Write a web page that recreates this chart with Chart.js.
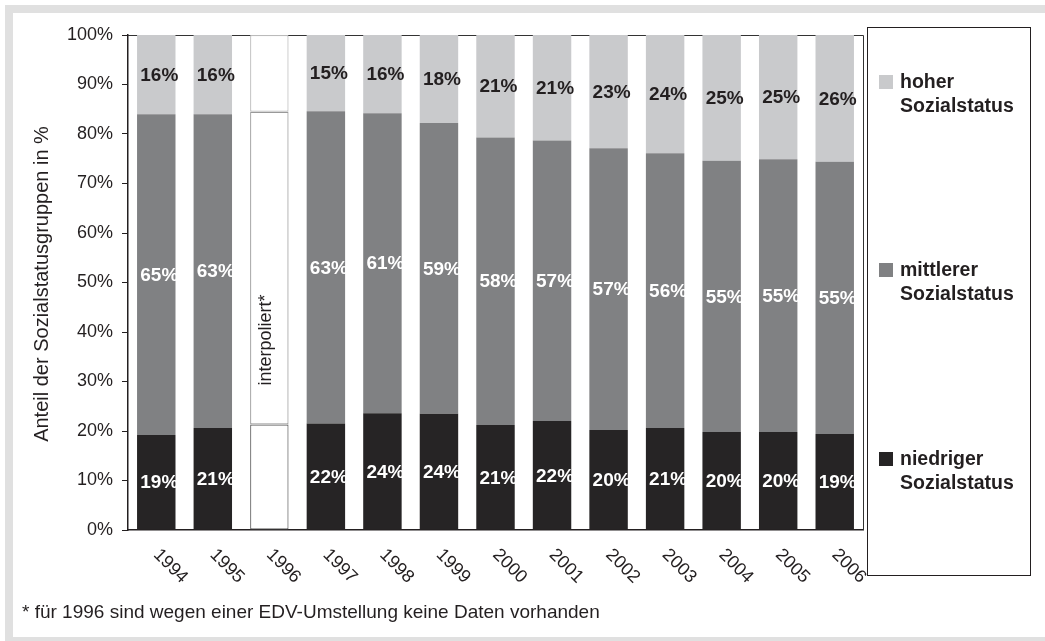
<!DOCTYPE html>
<html>
<head>
<meta charset="utf-8">
<script src="https://cdn.jsdelivr.net/npm/chart.js@4"></script>
<style>
  body { margin: 0; background: #fff; }
  #wrap { width: 1045px; height: 641px; position: relative; }
</style>
</head>
<body>
<div id="wrap"><canvas id="chart"></canvas></div>
<script>
// Jahre (1996 interpoliert)
var years = ["1994", "1995", "1996", "1997", "1998", "1999", "2000", "2001", "2002", "2003", "2004", "2005", "2006"];
var interpolatedIndex = 2;

// Anteile in %
var niedrig = [19.2, 20.6, 21.3, 21.5, 23.6, 23.5, 21.2, 22.0, 20.2, 20.6, 19.8, 19.8, 19.4];
var mittel  = [64.8, 63.4, 63.2, 63.1, 60.6, 58.7, 58.1, 56.7, 56.9, 55.5, 54.8, 55.1, 55.0];
var hoch    = [16.0, 16.0, 15.5, 15.4, 15.8, 17.8, 20.7, 21.3, 22.9, 23.9, 25.4, 25.1, 25.6];

var yTicks = [0, 10, 20, 30, 40, 50, 60, 70, 80, 90, 100];

var seriesNames = ["niedriger Sozialstatus", "mittlerer Sozialstatus", "hoher Sozialstatus"];
var seriesColors = ["#262425", "#808183", "#c9cacc"];
var labelColors = ["#ffffff", "#ffffff", "#231f20"];
var interpBorder = ["#666666", "#999999", "#bbbbbb"];

var FONT = "'Liberation Sans', Arial, sans-serif";

function perBar(normal, special) {
  return years.map(function (y, i) { return i === interpolatedIndex ? special : normal; });
}

function makeDataset(idx, values) {
  return {
    label: seriesNames[idx],
    data: values,
    backgroundColor: perBar(seriesColors[idx], "#ffffff"),
    borderColor: perBar(seriesColors[idx], interpBorder[idx]),
    borderWidth: perBar(0, 1.2),
    borderSkipped: false,
    barPercentage: 0.68,
    categoryPercentage: 1.0
  };
}

// grauer Rahmen um das Bild + Rahmen der Zeichenfläche
var framePlugin = {
  id: "frame",
  beforeDraw: function (chart) {
    var ctx = chart.ctx;
    ctx.save();
    ctx.fillStyle = "#ffffff";
    ctx.fillRect(0, 0, chart.width, chart.height);
    ctx.fillStyle = "#e0e0e0";
    ctx.fillRect(5, 5, chart.width, 8);
    ctx.fillRect(5, 5, 8, chart.height);
    ctx.fillRect(5, 637, chart.width, 8);
    ctx.restore();
  },
  beforeDatasetsDraw: function (chart) {
    var a = chart.chartArea;
    var ctx = chart.ctx;
    ctx.save();
    ctx.strokeStyle = "#333333";
    ctx.lineWidth = 1;
    ctx.beginPath();
    ctx.moveTo(a.left, a.top + 0.5);
    ctx.lineTo(a.right + 0.5, a.top + 0.5);
    ctx.lineTo(a.right + 0.5, a.bottom);
    ctx.stroke();
    ctx.restore();
  }
};

// Beschriftungen, Legende, Achsentitel, Fußnote
var textPlugin = {
  id: "texts",
  afterDraw: function (chart) {
    var ctx = chart.ctx;
    var a = chart.chartArea;
    var xs = chart.scales.x;
    ctx.save();

    // Werte in den Balken
    ctx.font = "bold 19px " + FONT;
    ctx.textAlign = "center";
    ctx.textBaseline = "middle";
    chart.data.datasets.forEach(function (ds, di) {
      var meta = chart.getDatasetMeta(di);
      meta.data.forEach(function (bar, i) {
        if (i === interpolatedIndex) return;
        ctx.fillStyle = labelColors[di];
        ctx.fillText(Math.round(ds.data[i]) + "%", bar.x + 3, (bar.y + bar.base) / 2 + 1);
      });
    });

    // interpoliert*
    var ix = xs.getPixelForTick(interpolatedIndex);
    ctx.save();
    ctx.translate(ix - 3, 340);
    ctx.rotate(-Math.PI / 2);
    ctx.font = "18px " + FONT;
    ctx.fillStyle = "#231f20";
    ctx.fillText("interpoliert*", 0, 0);
    ctx.restore();

    // x-Beschriftung, schräg nach unten
    ctx.font = "18px " + FONT;
    ctx.fillStyle = "#231f20";
    ctx.textAlign = "left";
    years.forEach(function (y, i) {
      var x = xs.getPixelForTick(i);
      ctx.save();
      ctx.translate(x, a.bottom + 22);
      ctx.rotate(Math.PI / 4);
      ctx.fillText(y, 0, 0);
      ctx.restore();
    });

    // y-Achsentitel
    ctx.save();
    ctx.translate(42, 284);
    ctx.rotate(-Math.PI / 2);
    ctx.textAlign = "center";
    ctx.font = "20px " + FONT;
    ctx.fillText("Anteil der Sozialstatusgruppen in %", 0, 0);
    ctx.restore();

    // Legende
    ctx.strokeStyle = "#231f20";
    ctx.lineWidth = 1;
    ctx.strokeRect(867.5, 27.5, 163, 548);
    var legendY = [82, 270, 459];
    var order = [2, 1, 0];
    ctx.font = "bold 19.5px " + FONT;
    ctx.textAlign = "left";
    order.forEach(function (di, k) {
      var y = legendY[k];
      ctx.fillStyle = seriesColors[di];
      ctx.fillRect(879, y - 7, 14, 14);
      ctx.fillStyle = "#231f20";
      var parts = seriesNames[di].split(" ");
      ctx.fillText(parts[0], 900, y + 1);
      ctx.fillText(parts[1], 900, y + 25);
    });

    // Fußnote
    ctx.font = "19px " + FONT;
    ctx.fillStyle = "#231f20";
    ctx.fillText("* für 1996 sind wegen einer EDV-Umstellung keine Daten vorhanden", 22, 613);

    ctx.restore();
  }
};

new Chart(document.getElementById("chart"), {
  type: "bar",
  data: {
    labels: years,
    datasets: [makeDataset(0, niedrig), makeDataset(1, mittel), makeDataset(2, hoch)]
  },
  options: {
    responsive: true,
    maintainAspectRatio: false,
    animation: false,
    layout: { padding: { left: 0, top: 35, right: 182, bottom: 0 } },
    plugins: {
      legend: { display: false },
      tooltip: { enabled: false }
    },
    scales: {
      x: {
        stacked: true,
        grid: { display: false },
        border: { color: "#231f20", width: 1.5 },
        ticks: { display: false },
        afterFit: function (scale) { scale.height = 111; }
      },
      y: {
        stacked: true,
        min: 0,
        max: 100,
        afterBuildTicks: function (scale) {
          scale.ticks = yTicks.map(function (v) { return { value: v }; });
        },
        ticks: {
          callback: function (v) { return v + "%"; },
          color: "#231f20",
          font: { size: 18, family: FONT },
          padding: 9
        },
        grid: { drawOnChartArea: false, drawTicks: true, tickLength: 6, color: "#231f20" },
        border: { color: "#231f20", width: 1.5 },
        afterFit: function (scale) { scale.width = 128; }
      }
    }
  },
  plugins: [framePlugin, textPlugin]
});
</script>
</body>
</html>
